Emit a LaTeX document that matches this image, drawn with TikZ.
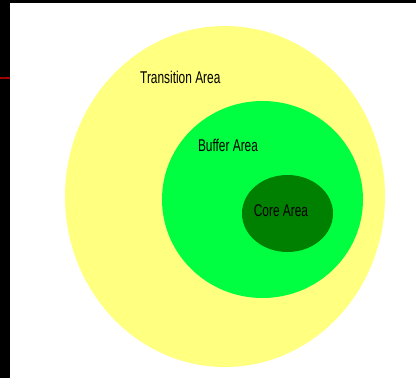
\documentclass[tikz,border=0pt]{standalone}
\usepackage{fontspec}
\usepackage{graphicx}
\usetikzlibrary{shapes.geometric}
\newfontfamily\labfont{Liberation Sans}
\definecolor{transyellow}{RGB}{255,255,128}
\definecolor{buffergreen}{RGB}{0,255,64}
\definecolor{coregreen}{RGB}{0,128,0}
\definecolor{barred}{RGB}{160,0,0}
\tikzset{
  zone/.style={ellipse, inner sep=0pt, draw=none},
  zonelabel/.style={anchor=base, inner sep=0pt, font=\labfont\fontsize{17}{17}\selectfont, text=black}
}
\newcommand{\narrow}[1]{\scalebox{0.7}[1]{#1}}
\begin{document}
\begin{tikzpicture}[x=1pt,y=-1pt]
\useasboundingbox (0,0) rectangle (416,378);
\fill[white] (0,0) rectangle (416,378);
% frame bars
\fill[black] (0,0) rectangle (416,3);
\fill[black] (0,0) rectangle (10,378);
\fill[barred] (0,76.5) rectangle (10,78.5);
% zones
\node[zone, fill=transyellow, minimum width=320pt, minimum height=341pt] (trans) at (225,196.5) {};
\node[zone, fill=buffergreen, minimum width=201pt, minimum height=197pt] (buffer) at (262.5,199.5) {};
\node[zone, fill=coregreen, minimum width=91pt, minimum height=77pt] (core) at (287.5,213.5) {};
% labels
\node[zonelabel] (translabel) at (180.3,83) {\narrow{Transition Area}};
\node[zonelabel] (bufferlabel) at (228,151) {\narrow{Buffer Area}};
\node[zonelabel] (corelabel) at (281,216.5) {\narrow{Core Area}};
\end{tikzpicture}
\end{document}
